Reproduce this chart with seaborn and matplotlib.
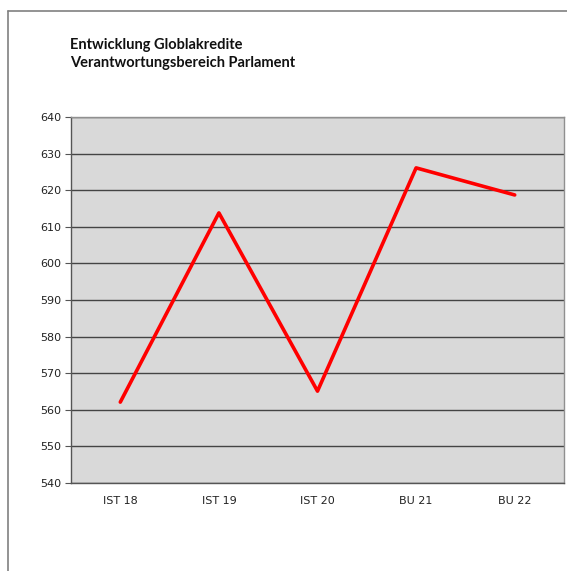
import matplotlib
matplotlib.use("Agg")
import matplotlib.pyplot as plt
import seaborn as sns
import pandas as pd
import numpy as np
from matplotlib.lines import Line2D

# Global credits per year (IST = actual, BU = budget)
years = ["IST 18", "IST 19", "IST 20", "BU 21", "BU 22"]
credits = [562.1, 613.8, 565.1, 626.1, 618.7]
y_ticks = [540, 550, 560, 570, 580, 590, 600, 610, 620, 630, 640]

df = pd.DataFrame({"Jahr": years, "Kredit": credits})

sns.set_theme(style="white")
plt.rcParams["font.family"] = ["DejaVu Sans"]

fig = plt.figure(figsize=(5.67, 5.71), dpi=100)
ax = fig.add_axes([71 / 567, 1 - 483 / 571, (564 - 71) / 567, (483 - 117) / 571])
ax.set_facecolor("#d9d9d9")

sns.lineplot(data=df, x="Jahr", y="Kredit", ax=ax, color="#ff0000",
             linewidth=2.6, sort=False, zorder=3)

ax.set_xlim(-0.5, len(years) - 0.5)
ax.set_ylim(540, 640)
ax.set_yticks(y_ticks)
ax.set_yticklabels([str(v) for v in y_ticks], fontsize=8, color="#222222")

# category labels centred, tick marks between categories
ax.set_xticks(np.arange(-0.5, len(years)), labels=[""] * (len(years) + 1))
ax.set_xticks(np.arange(len(years)), labels=years, minor=True)
ax.tick_params(axis="x", which="minor", length=0, pad=9, labelsize=8, labelcolor="#222222")
ax.tick_params(axis="x", which="major", length=4, direction="out", color="#555555", width=0.8)
ax.tick_params(axis="y", length=4, direction="out", color="#555555", width=0.8, pad=3, left=True)

ax.grid(axis="y", color="#444444", linewidth=1.0, zorder=1)
ax.set_axisbelow(True)
ax.set_xlabel("")
ax.set_ylabel("")

for side in ["left", "bottom"]:
    ax.spines[side].set_color("#555555")
    ax.spines[side].set_linewidth(1.0)
for side in ["right", "top"]:
    ax.spines[side].set_color("#909090")
    ax.spines[side].set_linewidth(1.0)

fig.text(70 / 567, 1 - 54 / 571, "Entwicklung Globlakredite\nVerantwortungsbereich Parlament",
         fontsize=10.5, fontweight="bold", family=["Lato", "DejaVu Sans"],
         ha="left", va="center", linespacing=1.38, color="#111111")

# outer frame of the chart area
fig.add_artist(Line2D([7.5 / 567, 7.5 / 567], [0, 1 - 11 / 571], transform=fig.transFigure,
                      color="#808080", linewidth=1.2))
fig.add_artist(Line2D([7.5 / 567, 1], [1 - 11 / 571, 1 - 11 / 571], transform=fig.transFigure,
                      color="#808080", linewidth=1.2))

fig.savefig("out.png", dpi=100)
